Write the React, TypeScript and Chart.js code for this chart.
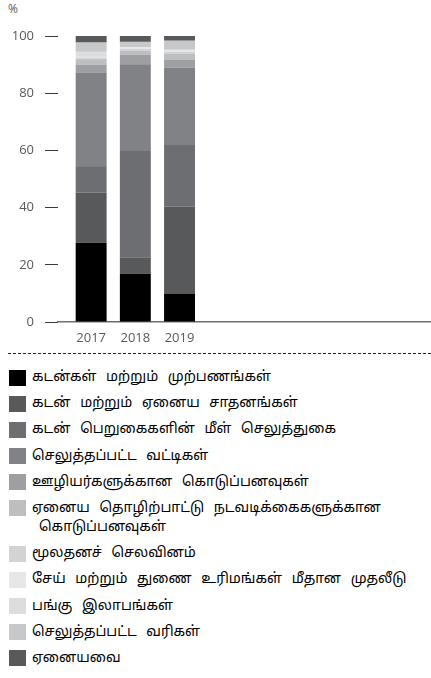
import React, { useEffect, useRef } from 'react';
import { Chart, registerables } from 'chart.js';

Chart.register(...registerables);

// ---- data ----
const years = ['2017', '2018', '2019'];
const yTickValues = [0, 20, 40, 60, 80, 100];
const unitLabel = '%';

const seriesLabels = [
  'கடன்கள் மற்றும் முற்பணங்கள்',
  'கடன் மற்றும் ஏனைய சாதனங்கள்',
  'கடன் பெறுகைகளின் மீள் செலுத்துகை',
  'செலுத்தப்பட்ட வட்டிகள்',
  'ஊழியர்களுக்கான கொடுப்பனவுகள்',
  'ஏனைய தொழிற்பாட்டு நடவடிக்கைகளுக்கான கொடுப்பனவுகள்',
  'மூலதனச் செலவினம்',
  'சேய் மற்றும் துணை உரிமங்கள் மீதான முதலீடு',
  'பங்கு இலாபங்கள்',
  'செலுத்தப்பட்ட வரிகள்',
  'ஏனையவை',
];

const seriesColors = [
  '#000000',
  '#58595b',
  '#6d6e71',
  '#808285',
  '#9d9fa2',
  '#bcbec0',
  '#d1d3d4',
  '#e6e7e8',
  '#dcdddf',
  '#c7c8ca',
  '#58595b',
];

const loansAdvances = [27.7, 16.8, 9.8];
const debtInstruments = [17.5, 5.7, 30.5];
const borrowingRepayment = [9.3, 37.3, 21.6];
const interestPaid = [32.7, 30.3, 27.0];
const employeePayments = [2.8, 3.3, 2.7];
const otherOperating = [1.9, 1.5, 2.1];
const capitalExpenditure = [0.5, 0.6, 0.7];
const subsidiaryInvestment = [0.3, 0.45, 0.7];
const dividends = [1.75, 0.1, 0.1];
const taxesPaid = [3.25, 1.9, 3.15];
const others = [2.3, 2.05, 1.65];

const seriesValues = [
  loansAdvances,
  debtInstruments,
  borrowingRepayment,
  interestPaid,
  employeePayments,
  otherOperating,
  capitalExpenditure,
  subsidiaryInvestment,
  dividends,
  taxesPaid,
  others,
];

const tickFont = { family: "'Open Sans', sans-serif", size: 13 };
const tickColor = '#58595b';

function ChartCanvas() {
  const ref = useRef<HTMLCanvasElement | null>(null);

  useEffect(() => {
    if (!ref.current) return;
    const chart = new Chart(ref.current, {
      type: 'bar',
      data: {
        datasets: seriesValues.map((vals, k) => ({
          label: seriesLabels[k],
          data: vals.map((v, i) => ({ x: i, y: v })),
          backgroundColor: seriesColors[k],
          borderWidth: 0,
          barPercentage: 0.7,
          categoryPercentage: 1,
        })),
      },
      options: {
        responsive: false,
        animation: false,
        layout: { padding: { top: 36, right: 0, bottom: 0, left: 0 } },
        plugins: {
          legend: { display: false },
          tooltip: { enabled: false },
        },
        scales: {
          x: {
            type: 'linear',
            stacked: true,
            offset: false,
            min: -0.75,
            max: 7.69,
            grid: { display: false, drawTicks: false, offset: false },
            border: { display: true, color: '#6d6e71', width: 1.5 },
            afterBuildTicks: (scale: any) => {
              scale.ticks = years.map((_, i) => ({ value: i }));
            },
            afterFit: (scale: any) => {
              scale.height = 28;
            },
            ticks: {
              autoSkip: false,
              maxRotation: 0,
              padding: 8,
              color: tickColor,
              font: tickFont,
              callback: (v: any) => years[v as number] ?? '',
            },
          },
          y: {
            stacked: true,
            min: 0,
            max: 100,
            afterBuildTicks: (scale: any) => {
              scale.ticks = yTickValues.map((v) => ({ value: v }));
            },
            afterFit: (scale: any) => {
              scale.width = 58;
            },
            grid: {
              drawOnChartArea: false,
              drawTicks: true,
              tickLength: 13,
              color: '#3a3a3a',
              lineWidth: 1,
            },
            border: { display: false },
            ticks: {
              padding: 11,
              color: tickColor,
              font: tickFont,
            },
          },
        },
      },
    });
    return () => chart.destroy();
  }, []);

  return <canvas ref={ref} width={431} height={350} style={{ display: 'block' }} />;
}

export default function App() {
  return (
    <div
      style={{
        position: 'absolute',
        left: 0,
        top: 0,
        width: 431,
        height: 678,
        background: '#fff',
        overflow: 'hidden',
      }}
    >
      <div
        style={{
          position: 'absolute',
          left: 8,
          top: 1,
          fontFamily: "'Open Sans', sans-serif",
          fontSize: 12,
          color: '#58595b',
          lineHeight: '16px',
        }}
      >
        {unitLabel}
      </div>
      <div style={{ position: 'absolute', left: 0, top: 0 }}>
        <ChartCanvas />
      </div>
      <div
        style={{
          position: 'absolute',
          left: 8,
          top: 353,
          width: 423,
          height: 1,
          background: 'repeating-linear-gradient(to right, #222 0px, #222 3px, transparent 3px, transparent 5px)',
        }}
      />
      <div
        style={{
          position: 'absolute',
          left: 9,
          top: 368,
          width: 418,
          fontFamily: "'Noto Sans Tamil', 'Lohit Tamil', sans-serif",
          fontSize: 14,
          color: '#000',
        }}
      >
        {seriesLabels.map((label, k) => (
          <div
            key={k}
            style={{ display: 'flex', alignItems: 'flex-start', marginBottom: 7.2 }}
          >
            <div
              style={{
                width: 17,
                height: 16,
                marginTop: 1.5,
                flex: '0 0 auto',
                background: seriesColors[k],
              }}
            />
            <div
              style={{
                marginLeft: 6,
                lineHeight: '19px',
                paddingLeft: 7,
                textIndent: -7,
                wordSpacing: 6,
              }}
            >
              {label}
            </div>
          </div>
        ))}
      </div>
    </div>
  );
}
